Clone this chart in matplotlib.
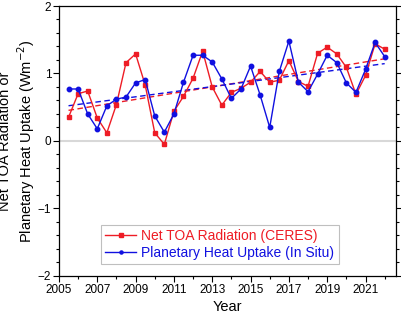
import numpy as np
import matplotlib
matplotlib.use("Agg")
import matplotlib.pyplot as plt
from matplotlib.ticker import MultipleLocator

plt.rcParams['font.family'] = ['Liberation Sans', 'DejaVu Sans']

# half-year time axis
anos = np.arange(2005.5, 2022.01, 0.5)

# Net TOA Radiation (CERES)
ceres = [0.35, 0.70, 0.74, 0.34, 0.12, 0.54, 1.16, 1.29, 0.83, 0.12,
         -0.05, 0.44, 0.66, 0.93, 1.33, 0.80, 0.53, 0.72, 0.78, 0.87,
         1.03, 0.87, 0.90, 1.19, 0.88, 0.81, 1.30, 1.39, 1.29, 1.09,
         0.69, 0.97, 1.44, 1.36]

# Planetary Heat Uptake (In Situ)
in_situ = [0.77, 0.77, 0.40, 0.18, 0.52, 0.62, 0.65, 0.86, 0.91, 0.37,
           0.13, 0.40, 0.87, 1.27, 1.27, 1.17, 0.92, 0.63, 0.77, 1.11,
           0.68, 0.20, 1.03, 1.48, 0.87, 0.73, 0.99, 1.27, 1.16, 0.86,
           0.72, 1.06, 1.46, 1.25]

etiquetas_x = [2005, 2007, 2009, 2011, 2013, 2015, 2017, 2019, 2021]
etiquetas_y = [-2, -1, 0, 1, 2]

rojo = '#ee1c25'
azul = '#1010e0'

fig, ax = plt.subplots(figsize=(4.01, 3.16), dpi=100)
fig.subplots_adjust(left=0.147, right=0.988, top=0.981, bottom=0.127)

# linea del cero
ax.axhline(0, color='#d8d8d8', lw=1.5, zorder=1)

ax.plot(anos, ceres, color=rojo, lw=1, marker='s', ms=3.2,
        label='Net TOA Radiation (CERES)', zorder=3)
ax.plot(anos, in_situ, color=azul, lw=1, marker='o', ms=3.2,
        label='Planetary Heat Uptake (In Situ)', zorder=3)

# tendencias lineales
for serie, color in [(ceres, rojo), (in_situ, azul)]:
    p = np.polyfit(anos, serie, 1)
    ax.plot(anos, np.polyval(p, anos), color=color, lw=1, ls=(0, (4, 2.5)),
            zorder=2)

ax.set_xlim(2005, 2022.6)
ax.set_ylim(-2, 2)
ax.set_xticks(etiquetas_x)
ax.set_yticks(etiquetas_y)
ax.xaxis.set_minor_locator(MultipleLocator(1))
ax.yaxis.set_minor_locator(MultipleLocator(0.2))
ax.tick_params(which='both', direction='out', right=True, labelsize=8.5,
               width=0.8, pad=1.5)
ax.tick_params(which='major', length=4)
ax.tick_params(which='minor', length=2.5)
for s in ax.spines.values():
    s.set_linewidth(0.9)

ax.set_xlabel('Year', fontsize=10.5, labelpad=3)
ax.set_ylabel('Net TOA Radiation or\nPlanetary Heat Uptake (Wm$^{-2}$)',
              fontsize=10.5, linespacing=1.15)
ax.yaxis.set_label_coords(-0.066, 0.5)

leg = ax.legend(loc='lower left', bbox_to_anchor=(0.125, 0.045), fontsize=10,
                frameon=True, fancybox=False, edgecolor='#b0b0b0',
                handlelength=2.2, handletextpad=0.4, borderpad=0.3,
                labelspacing=0.2, markerscale=0.7, borderaxespad=0)
leg.get_frame().set_linewidth(0.8)
for txt, c in zip(leg.get_texts(), [rojo, azul]):
    txt.set_color(c)

plt.savefig('out.png', dpi=100)
